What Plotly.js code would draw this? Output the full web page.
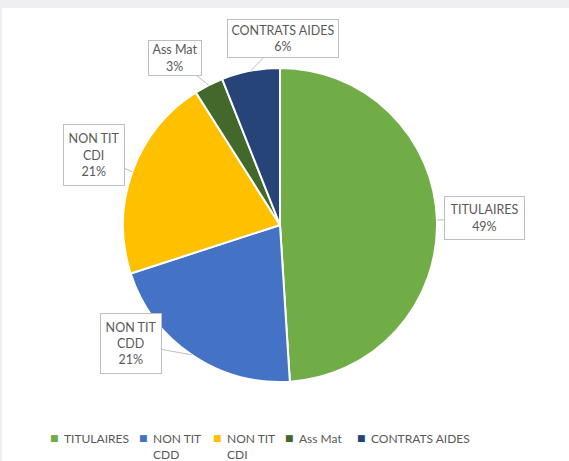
<!DOCTYPE html>
<html><head><meta charset="utf-8">
<script src="https://cdn.plot.ly/plotly-3.0.1.min.js"></script>
<style>
html,body{margin:0;padding:0;background:#efeff1;width:569px;height:461px;overflow:hidden}
#chart{position:absolute;left:2px;top:8px;width:567px;height:453px;background:#fff}
</style></head><body><div id="chart"></div>
<script>
// ---- data ----
const categories = ["TITULAIRES", "NON TIT CDD", "NON TIT CDI", "Ass Mat", "CONTRATS AIDES"];
const percentages = [49, 21, 21, 3, 6];

// ---- styles / layout ----
const colors = ["#70AD47", "#4472C4", "#FFC000", "#43682B", "#264478"];
const W = 567, H = 453;
const domX = [121 / W, 435 / W];
const domY = [1 - 374 / H, 1 - 60 / H];
const labelOffsets = [[48, -2], [-61, -11], [-38, -17], [-34, -27], [32, -32]];
const labelBoxes = [[73, 36], [54, 53], [54, 54], [46, 28], [104, 31]];
const legendTextX = [61, 150, 224, 296, 368];
const legendY = 422;
const FONT = "Lato, 'Liberation Sans', sans-serif";
const TXT = "#595959";

const wrap = s => s.replace(/^NON TIT /, "NON TIT<br>");

// pie geometry from domain
const cx = (domX[0] + domX[1]) / 2 * W;
const cy = (1 - (domY[0] + domY[1]) / 2) * H;
const r = Math.min((domX[1] - domX[0]) * W, (domY[1] - domY[0]) * H) / 2;
const total = percentages.reduce((a, b) => a + b, 0);

const annotations = [];
let cum = 0;
percentages.forEach((v, i) => {
  const a = (cum + v / 2) / total * 2 * Math.PI;
  cum += v;
  const tx = cx + r * Math.sin(a), ty = cy - r * Math.cos(a);
  annotations.push({
    xref: "paper", yref: "paper", x: tx / W, y: 1 - ty / H,
    ax: labelOffsets[i][0], ay: labelOffsets[i][1],
    showarrow: true, arrowhead: 0, arrowwidth: 1, arrowcolor: "#bfbfbf", standoff: 0,
    text: wrap(categories[i]) + "<br>" + v + "%",
    width: labelBoxes[i][0], height: labelBoxes[i][1],
    bordercolor: "#bfbfbf", borderwidth: 1, borderpad: 3, bgcolor: "#ffffff",
    font: {family: FONT, size: 12.5, color: TXT}, align: "center"
  });
});

// custom legend
categories.forEach((c, i) => {
  annotations.push({
    xref: "paper", yref: "paper", x: (legendTextX[i] - 3) / W, y: 1 - (legendY + 8) / H,
    xanchor: "right", yanchor: "middle", showarrow: false, borderpad: 0,
    text: "■", font: {family: "DejaVu Sans", size: 9, color: colors[i]}
  });
  annotations.push({
    xref: "paper", yref: "paper", x: legendTextX[i] / W, y: 1 - legendY / H,
    xanchor: "left", yanchor: "top", showarrow: false, align: "left", borderpad: 0,
    text: wrap(c), font: {family: FONT, size: 12, color: TXT}
  });
});

const trace = {
  type: "pie", labels: categories, values: percentages,
  sort: false, direction: "clockwise", rotation: 0,
  marker: {colors: colors, line: {color: "#ffffff", width: 2}},
  textinfo: "none", hoverinfo: "label+percent",
  domain: {x: domX, y: domY}, showlegend: false
};

Plotly.newPlot("chart", [trace], {
  width: W, height: H, margin: {l: 0, r: 0, t: 0, b: 0},
  paper_bgcolor: "#ffffff", showlegend: false,
  annotations: annotations
}, {staticPlot: true});
</script></body></html>
